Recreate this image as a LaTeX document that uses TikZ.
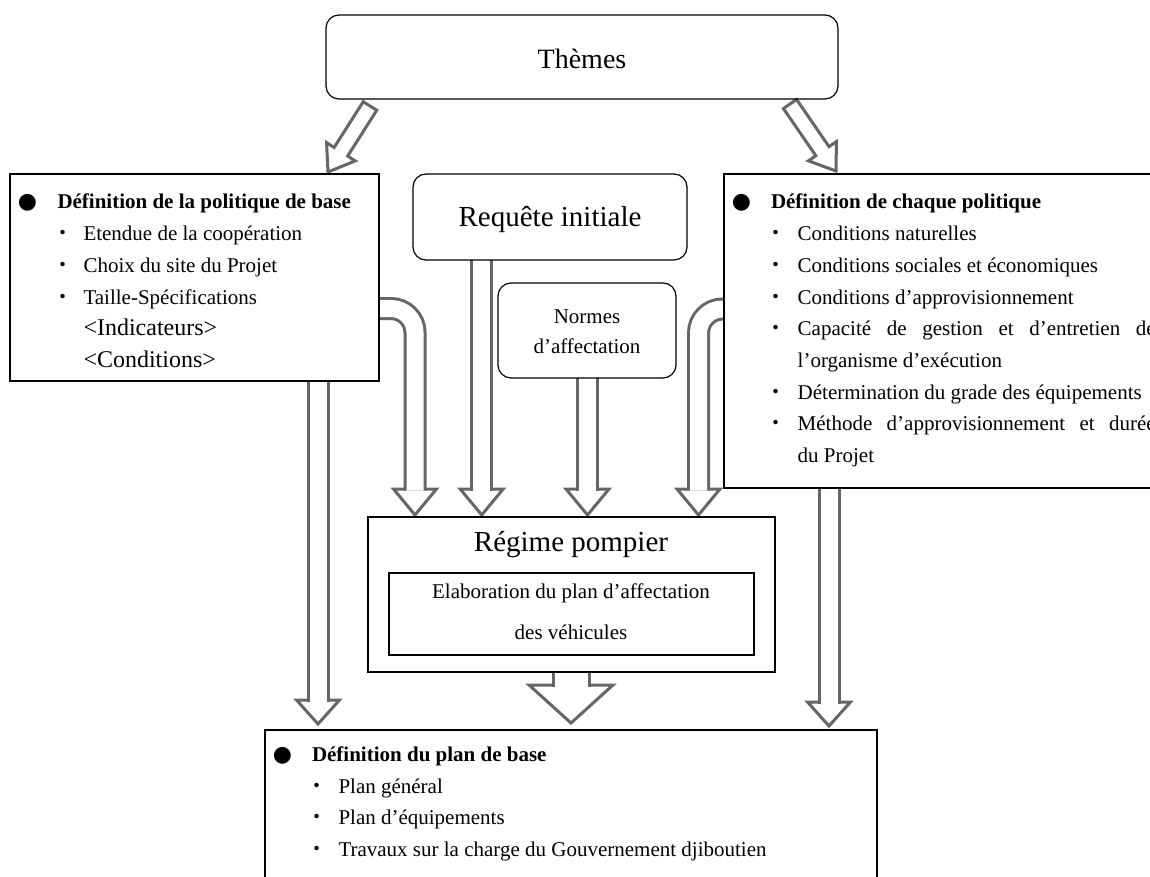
\documentclass[tikz,border=0pt]{standalone}
\usepackage{fontspec}
\setmainfont{Liberation Serif}
\newfontfamily\cjkf{Noto Sans CJK JP}
\newfontfamily\symf{DejaVu Sans}
\usetikzlibrary{calc}
\definecolor{arrgray}{RGB}{102,102,102}
\pgfdeclarelayer{bg}
\pgfsetlayers{bg,main}
\newcommand\bigdot{{\symf\fontsize{22pt}{22pt}\selectfont ●}}
\newcommand\smdot{{\cjkf ・}}
\newcommand\itemline[4]{\hbox{\rlap{\hspace*{#1pt}\makebox[0pt]{#2}}\hspace*{#3pt}#4}}
\newcommand\vhead[4]{\draw[headst] ($(#1)+(-#2,-#4)$) -- ($(#1)+(-#3,-#4)$) -- (#1) -- ($(#1)+(#3,-#4)$) -- ($(#1)+(#2,-#4)$);}
\newcommand\darrow[5]{%
  \coordinate (H) at ($(#2)!#5pt!(#1)$);
  \draw[headst] ($(#1)!#3pt!90:(#2)$) -- ($(H)!#3pt!-90:(#1)$) -- ($(H)!#4pt!-90:(#1)$) -- (#2)
     -- ($(H)!#4pt!90:(#1)$) -- ($(H)!#3pt!90:(#1)$) -- ($(#1)!#3pt!-90:(#2)$) -- cycle;}
\begin{document}
\begin{tikzpicture}[x=1pt,y=-1pt,
  box/.style={draw=black, line width=1.2pt, inner sep=0pt, outer sep=0pt, anchor=north west},
  rbox/.style={box, rounded corners=13pt},
  txt/.style={inner sep=0pt, outer sep=0pt, anchor=base west},
  ctxt/.style={inner sep=0pt, outer sep=0pt, anchor=base},
  headst/.style={draw=arrgray, line width=3pt, fill=white, line join=miter},
  shaft/.style={draw=arrgray, line width=3pt, double=white, double distance=17pt},
  shaftwide/.style={draw=arrgray, line width=3pt, double=white, double distance=33pt}]
\useasboundingbox (0,0) rectangle (1150,877);
\begin{pgfonlayer}{bg}
\fill[white] (0,0) rectangle (1150,877);
\end{pgfonlayer}

% boxes
\node[rbox, minimum width=512pt, minimum height=84pt] (them) at (326,15) {};
\node[box, minimum width=369pt, minimum height=207pt] (lbox) at (10,174) {};
\node[box, minimum width=460pt, minimum height=314pt] (rbox) at (724,174) {};
\node[rbox, minimum width=274pt, minimum height=86pt] (req) at (413,174) {};
\node[rbox, minimum width=178pt, minimum height=95pt] (norm) at (498,283) {};
\node[box, line width=1.5pt, minimum width=407pt, minimum height=155pt] (reg) at (368,517) {};
\node[box, line width=1.5pt, minimum width=365pt, minimum height=82pt] (elab) at (389,573) {};
\node[box, line width=2.5pt, minimum width=612pt, minimum height=200pt] (base) at (265,730) {};

% texts
\node[ctxt, font=\fontsize{28pt}{34pt}\selectfont] (themt) at (582,68.3) {Thèmes};
\node[ctxt, font=\fontsize{29pt}{35pt}\selectfont] (reqt) at (550,226.7) {Requête initiale};
\node[ctxt] (normt) at (587,323) {\vtop{\fontsize{21pt}{30.3pt}\selectfont\halign{\hfil#\hfil\cr Normes\cr d’affectation\cr}}};
\node[ctxt, font=\fontsize{29pt}{35pt}\selectfont] (regt) at (571,551.7) {Régime pompier};
\node[ctxt] (elabt) at (571,598.3) {\vtop{\fontsize{21pt}{41pt}\selectfont\halign{\hfil#\hfil\cr Elaboration du plan d’affectation\cr des véhicules\cr}}};

\node[txt] (ltext) at (10,209) {\vtop{\fontsize{21pt}{31.67pt}\selectfont
  \itemline{17.5}{\bigdot}{47.5}{\textbf{Définition de la politique de base}}
  \itemline{52.5}{\smdot}{73.5}{Etendue de la coopération}
  \itemline{52.5}{\smdot}{73.5}{Choix du site du Projet}
  \itemline{52.5}{\smdot}{73.5}{Taille-Spécifications}
  \hbox{\hspace*{73.5pt}\fontsize{24pt}{30pt}\selectfont <Indicateurs>}
  \hbox{\hspace*{73.5pt}\fontsize{24pt}{30pt}\selectfont <Conditions>}}};

\node[txt] (rtext) at (724,209) {\vtop{\fontsize{21pt}{31.67pt}\selectfont
  \itemline{17.5}{\bigdot}{47}{\textbf{Définition de chaque politique}}
  \itemline{51.5}{\smdot}{73.7}{Conditions naturelles}
  \itemline{51.5}{\smdot}{73.7}{Conditions sociales et économiques}
  \itemline{51.5}{\smdot}{73.7}{Conditions d’approvisionnement}
  \itemline{51.5}{\smdot}{73.7}{\makebox[358pt][s]{Capacité de gestion et d’entretien de}}
  \hbox{\hspace*{73.7pt}l’organisme d’exécution}
  \itemline{51.5}{\smdot}{73.7}{Détermination du grade des équipements}
  \itemline{51.5}{\smdot}{73.7}{\makebox[358pt][s]{Méthode d’approvisionnement et durée}}
  \hbox{\hspace*{73.7pt}du Projet}}};

\node[txt] (btext) at (265,761.5) {\vtop{\fontsize{21pt}{31.67pt}\selectfont
  \itemline{17.5}{\bigdot}{47}{\textbf{Définition du plan de base}}
  \itemline{52}{\smdot}{73.5}{Plan général}
  \itemline{52}{\smdot}{73.5}{Plan d’équipements}
  \itemline{52}{\smdot}{73.5}{Travaux sur la charge du Gouvernement djiboutien}}};

% arrows
\begin{pgfonlayer}{bg}
\coordinate (a1) at (415,515);
\coordinate (c1) at (415,308.5);
\coordinate (a2) at (481.7,515);
\coordinate (a3) at (587.5,515);
\coordinate (a4) at (698.5,515);
\coordinate (c4) at (698.5,309);
\coordinate (a5) at (318,724);
\coordinate (a6) at (829,726);
\coordinate (a7) at (571,723);
\coordinate (d1s) at (370,106);
\coordinate (d1e) at (328,172);
\coordinate (d2s) at (790,104);
\coordinate (d2e) at (836,171);

\vhead{a1}{10}{21.5}{26}
\vhead{a2}{10}{21.5}{26}
\vhead{a3}{10}{21.5}{26}
\vhead{a4}{10}{21.5}{26}
\vhead{a5}{10}{21.5}{24}
\vhead{a6}{10}{21.5}{24}
\vhead{a7}{18}{42}{38}

\draw[shaft, rounded corners=24pt] (lbox.east |- c1) -- (c1) -- ($(a1)+(0,-24.5)$);
\draw[shaft] (req.south -| a2) -- ($(a2)+(0,-24.5)$);
\draw[shaft] (norm.south -| a3) -- ($(a3)+(0,-24.5)$);
\draw[shaft, rounded corners=24pt] (rbox.west |- c4) -- (c4) -- ($(a4)+(0,-24.5)$);
\draw[shaft] (lbox.south -| a5) -- ($(a5)+(0,-22.5)$);
\draw[shaft] (rbox.south -| a6) -- ($(a6)+(0,-22.5)$);
\draw[shaftwide] (reg.south -| a7) -- ($(a7)+(0,-36.5)$);

\darrow{d1s}{d1e}{8}{17}{24}
\darrow{d2s}{d2e}{8}{17}{24}
\end{pgfonlayer}
\end{tikzpicture}
\end{document}
